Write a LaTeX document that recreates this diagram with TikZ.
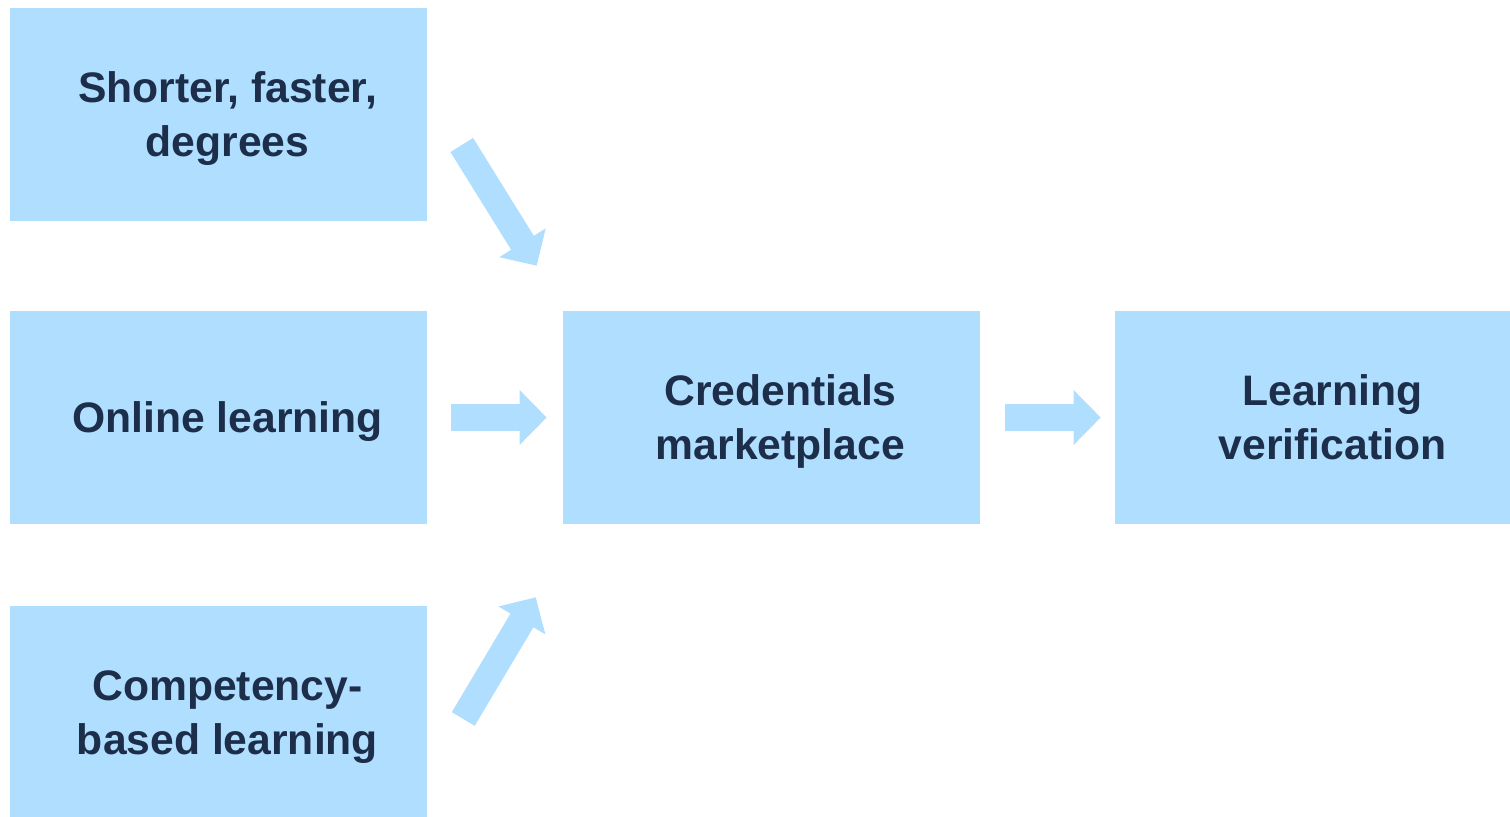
\documentclass[tikz,border=0pt]{standalone}
\usepackage{fontspec}
\setmainfont{Liberation Sans}
\usetikzlibrary{arrows.meta,calc}
\definecolor{boxblue}{RGB}{176,222,255}
\definecolor{textnavy}{RGB}{28,46,74}
\newcommand{\boxtext}[1]{\hspace*{13.5pt}\raisebox{-3pt}[\height][\depth]{\begin{tabular}{@{}c@{}}#1\end{tabular}}}
\tikzset{
  box/.style={fill=boxblue, minimum width=312.75pt, minimum height=159.75pt, inner sep=0pt,
    text=textnavy, font=\fontsize{32}{40.5}\selectfont\bfseries},
  blockarrow/.style={draw=boxblue, line width=20pt, -{Triangle[width=39.75pt,length=20.25pt]}}
}
\begin{document}
\begin{tikzpicture}[x=0.75pt,y=0.75pt,yscale=-1,xscale=1]
\clip (0,0) rectangle (1510,817);

% Boxes
\node[box] (short) at (218.5,114.5) {\boxtext{Shorter, faster,\\degrees}};
\node[box] (online) at (218.5,417.5) {\boxtext{Online learning}};
\node[box] (comp) at (218.5,712.5) {\boxtext{Competency-\\based learning}};
\node[box] (market) at (771.5,417.5) {\boxtext{Credentials\\marketplace}};
\node[box] (verify) at (1323.5,417.5) {\boxtext{Learning\\verification}};

% Arrows
\draw[blockarrow] ($(short.east)+(34.5,30.5)$) -- ($(market.north west)+(-26,-45)$);
\draw[blockarrow, shorten <=18pt, shorten >=12pt] (online.east) -- (market.west);
\draw[blockarrow] ($(comp.east)+(36,6.5)$) -- ($(market.south west)+(-27,73)$);
\draw[blockarrow, shorten <=18.75pt, shorten >=10.5pt] (market.east) -- (verify.west);

\end{tikzpicture}
\end{document}
